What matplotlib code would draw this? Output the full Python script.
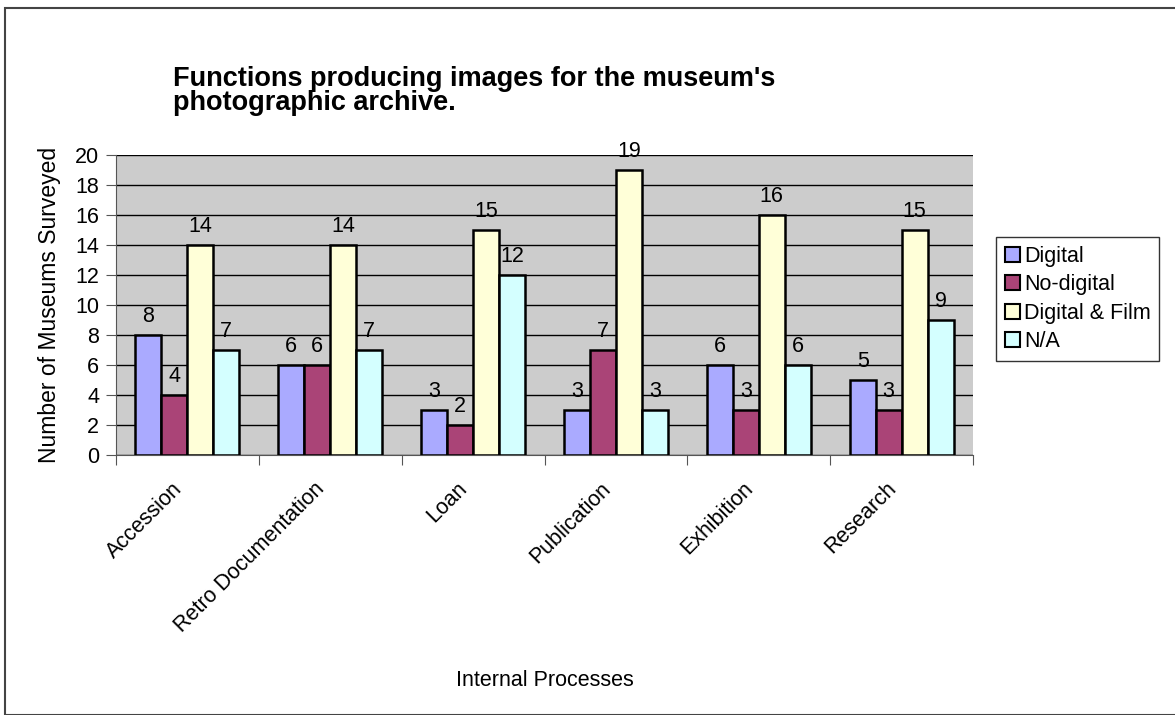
import matplotlib.pyplot as plt
import numpy as np

categories = ['Accession', 'Retro Documentation', 'Loan', 'Publication', 'Exhibition', 'Research']
series_names = ['Digital', 'No-digital', 'Digital & Film', 'N/A']
digital = [8, 6, 3, 3, 6, 5]
no_digital = [4, 6, 2, 7, 3, 3]
digital_film = [14, 14, 15, 19, 16, 15]
not_applicable = [7, 7, 12, 3, 6, 9]
colors = ['#AAAAFF', '#AA4477', '#FFFFD8', '#D4FFFF']

plt.rcParams['font.family'] = ['Liberation Sans', 'DejaVu Sans']
FS = 15.5

fig = plt.figure(figsize=(11.75, 7.15), dpi=100)
# outer frame of the chart
fig.patches.append(plt.Rectangle((5 / 1175, 0.0), 1.2, (715 - 8) / 715, transform=fig.transFigure,
                                 fill=False, edgecolor='#444444', linewidth=1.5))

ax = fig.add_axes([116 / 1175, 1 - 455 / 715, (973 - 116) / 1175, (455 - 155) / 715])
ax.set_facecolor('#CCCCCC')

x = np.arange(len(categories))
w = 1 / 5.5
all_series = [digital, no_digital, digital_film, not_applicable]
for i, (vals, name, c) in enumerate(zip(all_series, series_names, colors)):
    pos = x + (i - 1.5) * w
    bars = ax.bar(pos, vals, width=w, color=c, edgecolor='black', linewidth=1.8, label=name, zorder=3)
    for b, v in zip(bars, vals):
        ax.text(b.get_x() + b.get_width() / 2, v + 0.55, str(v), ha='center', va='bottom', fontsize=FS)

ax.set_xlim(-0.5, len(categories) - 0.5)
ax.set_ylim(0, 20)
ax.set_yticks(range(0, 21, 2))
ax.yaxis.grid(True, color='black', linewidth=1)
ax.set_axisbelow(True)
ax.set_xticks(np.arange(len(categories) + 1) - 0.5, minor=False)
ax.set_xticklabels([])
ax.set_xticks(x - 0.06, minor=True)
ax.set_xticklabels(categories, minor=True, rotation=45, ha='right', va='center',
                   rotation_mode='anchor', fontsize=FS)
ax.tick_params(axis='x', which='minor', length=0, pad=22)
ax.tick_params(axis='x', which='major', length=7, direction='out', color='#555555')
ax.tick_params(axis='y', labelsize=FS, length=7, color='#555555', pad=5)
for s in ['top', 'right']:
    ax.spines[s].set_visible(False)
ax.spines['left'].set_color('#555555')
ax.spines['bottom'].set_color('#555555')

ax.set_ylabel('Number of Museums Surveyed', fontsize=16.5, labelpad=10)
fig.text(545 / 1175, 1 - 680 / 715, 'Internal Processes', ha='center', va='center', fontsize=FS)
fig.text(173 / 1175, 1 - 91 / 715, "Functions producing images for the museum's\nphotographic archive.",
         ha='left', va='center', fontsize=19.5, fontweight='bold', linespacing=0.95)

leg = ax.legend(loc='upper left', bbox_to_anchor=(996 / 1175, 1 - 237 / 715), bbox_transform=fig.transFigure,
                fontsize=FS, frameon=True, fancybox=False, edgecolor='black', handlelength=0.7,
                handleheight=0.7, handletextpad=0.2, borderpad=0.4, labelspacing=0.35, borderaxespad=0)
leg.get_frame().set_linewidth(1)
for h in leg.legend_handles:
    h.set_linewidth(1.5)

fig.savefig('out.png', dpi=100)
